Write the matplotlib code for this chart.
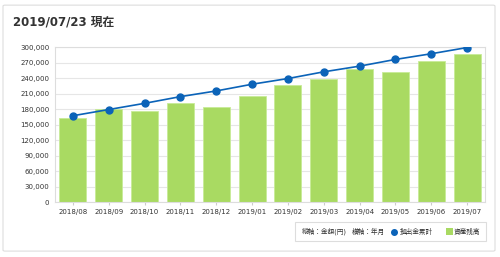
import matplotlib
matplotlib.use("Agg")
import matplotlib.pyplot as plt
from matplotlib.patches import FancyBboxPatch, Rectangle
from matplotlib.lines import Line2D
from matplotlib.ticker import FuncFormatter

plt.rcParams['font.family'] = ['DejaVu Sans', 'Noto Sans CJK JP']

months = ['2018/08', '2018/09', '2018/10', '2018/11', '2018/12', '2019/01',
          '2019/02', '2019/03', '2019/04', '2019/05', '2019/06', '2019/07']
assets = [163000, 180000, 177000, 192000, 183000, 205000,
          226000, 239000, 257000, 252000, 273000, 287000]
contrib = [167000, 179000, 191000, 204000, 215000, 228000,
           239000, 252000, 263000, 276000, 287000, 299000]
title = '2019/07/23 現在'
axis_notes = ['縦軸：金額(円)', '横軸：年月']
series_names = ['拠出金累計', '資産残高']

bar_green = '#a9da62'
line_blue = '#0b63b8'
grid_c = '#e6e6e6'
txt_c = '#333333'
W, H = 500, 257

fig = plt.figure(figsize=(5, 2.57), dpi=100)

def fx(px):
    return px / W

def fy(py):
    return 1 - py / H

# outer panel
panel = FancyBboxPatch((0.006, 0.023), 0.984, 0.957,
                       boxstyle='round,pad=0,rounding_size=0.004',
                       transform=fig.transFigure, fc='white',
                       ec='#dddddd', lw=0.8, zorder=-10)
fig.patches.append(panel)
fig.text(0.026, 0.914, title, fontsize=8.5, fontweight='bold', color=txt_c,
         va='center', ha='left')

ax = fig.add_axes([0.11, 0.214, 0.86, 0.603])
ax.set_zorder(1)
ax.patch.set_alpha(0)
x = range(len(months))
ax.bar(x, assets, width=0.75, color=bar_green, edgecolor='#c8eb98', lw=0.6, zorder=2)
ax.plot(x, contrib, color=line_blue, lw=1.2, marker='o', ms=5, zorder=3)

ax.set_xlim(-0.5, len(months) - 0.5)
ax.set_ylim(0, 300000)
ax.set_yticks(range(0, 300001, 30000))
ax.yaxis.set_major_formatter(FuncFormatter(lambda v, p: f'{int(v):,}'))
ax.set_xticks(list(x))
ax.set_xticklabels(months)
ax.tick_params(axis='both', labelsize=5, colors=txt_c, length=0, pad=4)
ax.tick_params(axis='x', length=2, color='#cccccc', pad=3)
ax.grid(axis='y', color=grid_c, lw=0.8, zorder=0)
ax.set_axisbelow(True)
for s in ax.spines.values():
    s.set_color('#dddddd')
    s.set_linewidth(0.8)

# legend box, laid out by hand
fig.patches.append(Rectangle((fx(295), fy(241)), fx(486) - fx(295), fy(222) - fy(241),
                             transform=fig.transFigure, fc='white', ec='#dddddd', lw=0.8))
ly = fy(231.5)
fs = 4.8
fig.text(fx(302), ly, axis_notes[0], fontsize=fs, color=txt_c, va='center')
fig.text(fx(352), ly, axis_notes[1], fontsize=fs, color=txt_c, va='center')
fig.add_artist(Line2D([fx(394)], [ly], transform=fig.transFigure, color=line_blue,
                      marker='o', ms=4, ls='none'))
fig.text(fx(399.5), ly, series_names[0], fontsize=fs, color=txt_c, va='center')
fig.patches.append(Rectangle((fx(446), ly - 3.5 / H), 7 / W, 7 / H,
                             transform=fig.transFigure, fc=bar_green, ec='none'))
fig.text(fx(454), ly, series_names[1], fontsize=fs, color=txt_c, va='center')
fig.patch.set_facecolor('white')

fig.savefig('out.png', dpi=100)
